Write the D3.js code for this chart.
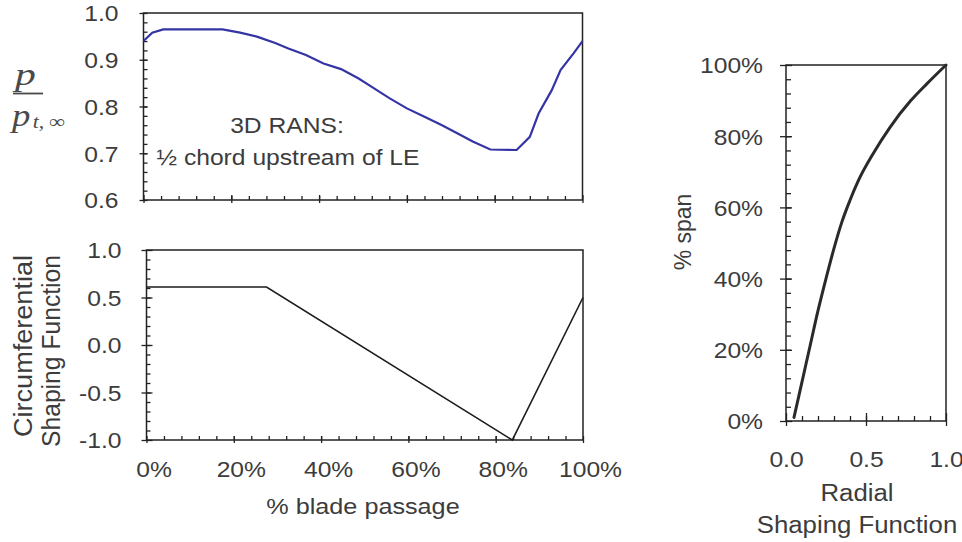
<!DOCTYPE html>
<html>
<head>
<meta charset="utf-8">
<script src="https://cdn.jsdelivr.net/npm/d3@7"></script>
<style>
  body { margin: 0; background: #fff; }
  svg { display: block; }
</style>
</head>
<body>
<div id="chart"></div>
<script>
var width = 962,
	height = 542;

// top panel: static pressure 1/2 chord upstream of LE
var passPct  = [0, 2, 4.5, 18, 22, 26, 30, 33, 37, 41, 45, 49, 52, 56, 60, 64, 68, 72, 75, 79, 85, 88, 90, 93, 95, 98, 100];
var pressure = [0.940, 0.958, 0.965, 0.965, 0.958, 0.949, 0.936, 0.924, 0.910, 0.892, 0.880, 0.860, 0.842, 0.818, 0.796, 0.778, 0.760, 0.740, 0.725, 0.708, 0.707, 0.735, 0.785, 0.835, 0.878, 0.914, 0.940];

// bottom panel: circumferential shaping function
var shapePct = [0, 27.5, 83.8, 100];
var shapeVal = [0.61, 0.61, -1.0, 0.5];

// right panel: radial shaping function
var radialVal = [0.05, 0.10, 0.15, 0.20, 0.25, 0.30, 0.35, 0.40, 0.45, 0.55, 0.65, 0.78, 0.88, 1.0];
var spanPct   = [1, 11, 21, 31, 40, 48.5, 56, 62, 67.3, 75.5, 82.5, 90, 94.7, 100];

// tick labels
var pressTicks  = [0.6, 0.7, 0.8, 0.9, 1.0];
var passTicks   = [0, 20, 40, 60, 80, 100];
var shapeTicks  = [-1.0, -0.5, 0.0, 0.5, 1.0];
var spanTicks   = [0, 20, 40, 60, 80, 100];
var radialTicks = [0, 0.5, 1.0];

var textColor = "#3c3c3c",
	lineColor = "#222",
	font = "'Liberation Sans', Arial, sans-serif",
	stretch = 1.12;

var svg = d3.select("#chart").append("svg")
	.attr("width", width)
	.attr("height", height)
	.style("background-color", "#fff");

function widen(sel, k){
	sel.each(function(){
		var w = this.getComputedTextLength();
		if(w > 0){
			d3.select(this).attr("textLength", w * k).attr("lengthAdjust", "spacingAndGlyphs");
		}
	});
}

function frame(x, y){
	svg.append("rect")
		.attr("x", x.range()[0])
		.attr("y", y.range()[1])
		.attr("width", x.range()[1] - x.range()[0])
		.attr("height", y.range()[0] - y.range()[1])
		.attr("fill", "none")
		.attr("stroke", lineColor)
		.attr("stroke-width", 1.5);
}

function styleTicks(g){
	g.select(".domain").remove();
	g.selectAll(".tick line").attr("stroke", lineColor).attr("stroke-width", 1.3);
	g.selectAll(".tick text")
		.attr("fill", textColor)
		.attr("font-family", font)
		.attr("font-size", 22);
}

function leftAxis(y, x0, major, minor, fmt, o){
	var g = svg.append("g").attr("transform", "translate(" + x0 + ",0)");
	g.call(d3.axisLeft(y).tickValues(major).tickSize(o.out).tickSizeOuter(0).tickFormat(fmt));
	styleTicks(g);
	g.selectAll(".tick line").attr("x1", o.inner);
	g.selectAll(".tick text").attr("x", -o.gap).attr("dy", "0.36em");
	widen(g.selectAll(".tick text"), stretch);

	var m = svg.append("g").attr("transform", "translate(" + x0 + ",0)");
	m.call(d3.axisLeft(y).tickValues(minor).tickSize(-o.minor).tickSizeOuter(0).tickFormat(""));
	styleTicks(m);
}

function bottomAxis(x, y0, major, minor, fmt, o){
	var g = svg.append("g").attr("transform", "translate(0," + y0 + ")");
	g.call(d3.axisBottom(x).tickValues(major).tickSize(o.out).tickSizeOuter(0).tickFormat(fmt));
	styleTicks(g);
	g.selectAll(".tick line").attr("y1", -o.inner);
	g.selectAll(".tick text").attr("y", o.gap).attr("dy", 0).attr("dx", o.dx || 0);
	widen(g.selectAll(".tick text"), stretch);

	var m = svg.append("g").attr("transform", "translate(0," + y0 + ")");
	m.call(d3.axisBottom(x).tickValues(minor).tickSize(-o.minor).tickSizeOuter(0).tickFormat(""));
	styleTicks(m);
}

function label(txt, x, y, size, rotate){
	var t = svg.append("text")
		.attr("font-family", font)
		.attr("font-size", size)
		.attr("fill", textColor)
		.attr("text-anchor", "middle")
		.text(txt);
	if(rotate){
		t.attr("transform", "translate(" + x + "," + y + ") rotate(-90)");
	} else {
		t.attr("x", x).attr("y", y);
	}
	return t;
}

var fmt1 = function(d){ return d.toFixed(1); };
var fmtPct = function(d){ return d + "%"; };

// ---------- top panel ----------
var xTop = d3.scaleLinear().domain([0, 100]).range([143.5, 582.5]);
var yTop = d3.scaleLinear().domain([0.6, 1.0]).range([200, 13]);

frame(xTop, yTop);
leftAxis(yTop, 143.5, pressTicks, d3.range(0.62, 1.0, 0.02), fmt1, {out: 4, inner: 4, minor: 4, gap: 25});
bottomAxis(xTop, 200, passTicks, d3.range(4, 100, 4), "", {out: 3, inner: 5, minor: 4, gap: 30});

svg.append("path")
	.datum(passPct.map(function(d, i){ return [d, pressure[i]]; }))
	.attr("fill", "none")
	.attr("stroke", "#3434a4")
	.attr("stroke-width", 2.2)
	.attr("d", d3.line()
		.x(function(d){ return xTop(d[0]); })
		.y(function(d){ return yTop(d[1]); }));

widen(label("3D RANS:", 287, 133, 22), stretch);
widen(label("\u00bd chord upstream of LE", 288, 165, 22), stretch);

// p / p_t,inf
var frac = svg.append("g").attr("fill", "#4a4a4a").attr("font-family", "'Liberation Serif', 'Times New Roman', serif").attr("font-style", "italic");
widen(frac.append("text").attr("x", 15).attr("y", 85).attr("font-size", 32).text("p"), 1.3);
svg.append("line").attr("x1", 13).attr("x2", 43).attr("y1", 93.5).attr("y2", 93.5).attr("stroke", "#4a4a4a").attr("stroke-width", 1.8);
var low = frac.append("text").attr("x", 12).attr("y", 126).attr("font-size", 32);
low.append("tspan").text("p");
low.append("tspan").attr("font-size", 19).attr("dy", 2).attr("dx", 2).text("t, \u221e");
widen(low, 1.2);

// ---------- bottom panel ----------
var xBot = d3.scaleLinear().domain([0, 100]).range([146.5, 583]);
var yBot = d3.scaleLinear().domain([-1, 1]).range([440, 250]);

frame(xBot, yBot);
leftAxis(yBot, 146.5, shapeTicks, d3.range(-0.9, 1.0, 0.1), fmt1, {out: 5, inner: 6, minor: 4, gap: 25});
bottomAxis(xBot, 440, passTicks, d3.range(4, 100, 4), fmtPct, {out: 3, inner: 4, minor: 4, gap: 37, dx: 7});

svg.append("path")
	.datum(shapePct.map(function(d, i){ return [d, shapeVal[i]]; }))
	.attr("fill", "none")
	.attr("stroke", "#1c1c1c")
	.attr("stroke-width", 1.6)
	.attr("d", d3.line()
		.x(function(d){ return xBot(d[0]); })
		.y(function(d){ return yBot(d[1]); }));

widen(label("% blade passage", 363, 514, 22.5), stretch);
label("Circumferential", 32, 346, 25, true).attr("textLength", 182).attr("lengthAdjust", "spacingAndGlyphs");
label("Shaping Function", 60, 351, 25, true).attr("textLength", 192).attr("lengthAdjust", "spacingAndGlyphs");

// ---------- right panel ----------
var xR = d3.scaleLinear().domain([0, 1]).range([786, 946]);
var yR = d3.scaleLinear().domain([0, 100]).range([421, 65]);

frame(xR, yR);
leftAxis(yR, 786, spanTicks, d3.range(4, 100, 4), fmtPct, {out: 6, inner: 6, minor: 5, gap: 23});
bottomAxis(xR, 421, radialTicks, d3.range(0.1, 1.0, 0.1), fmt1, {out: 5, inner: 8, minor: 5, gap: 46});

svg.append("path")
	.datum(radialVal.map(function(d, i){ return [d, spanPct[i]]; }))
	.attr("fill", "none")
	.attr("stroke", "#2a2a2a")
	.attr("stroke-width", 3)
	.attr("stroke-linecap", "round")
	.attr("d", d3.line()
		.curve(d3.curveMonotoneX)
		.x(function(d){ return xR(d[0]); })
		.y(function(d){ return yR(d[1]); }));

widen(label("Radial", 857, 501, 23), stretch);
widen(label("Shaping Function", 857, 533, 23), stretch);
label("% span", 691, 232, 23, true);
</script>
</body>
</html>
